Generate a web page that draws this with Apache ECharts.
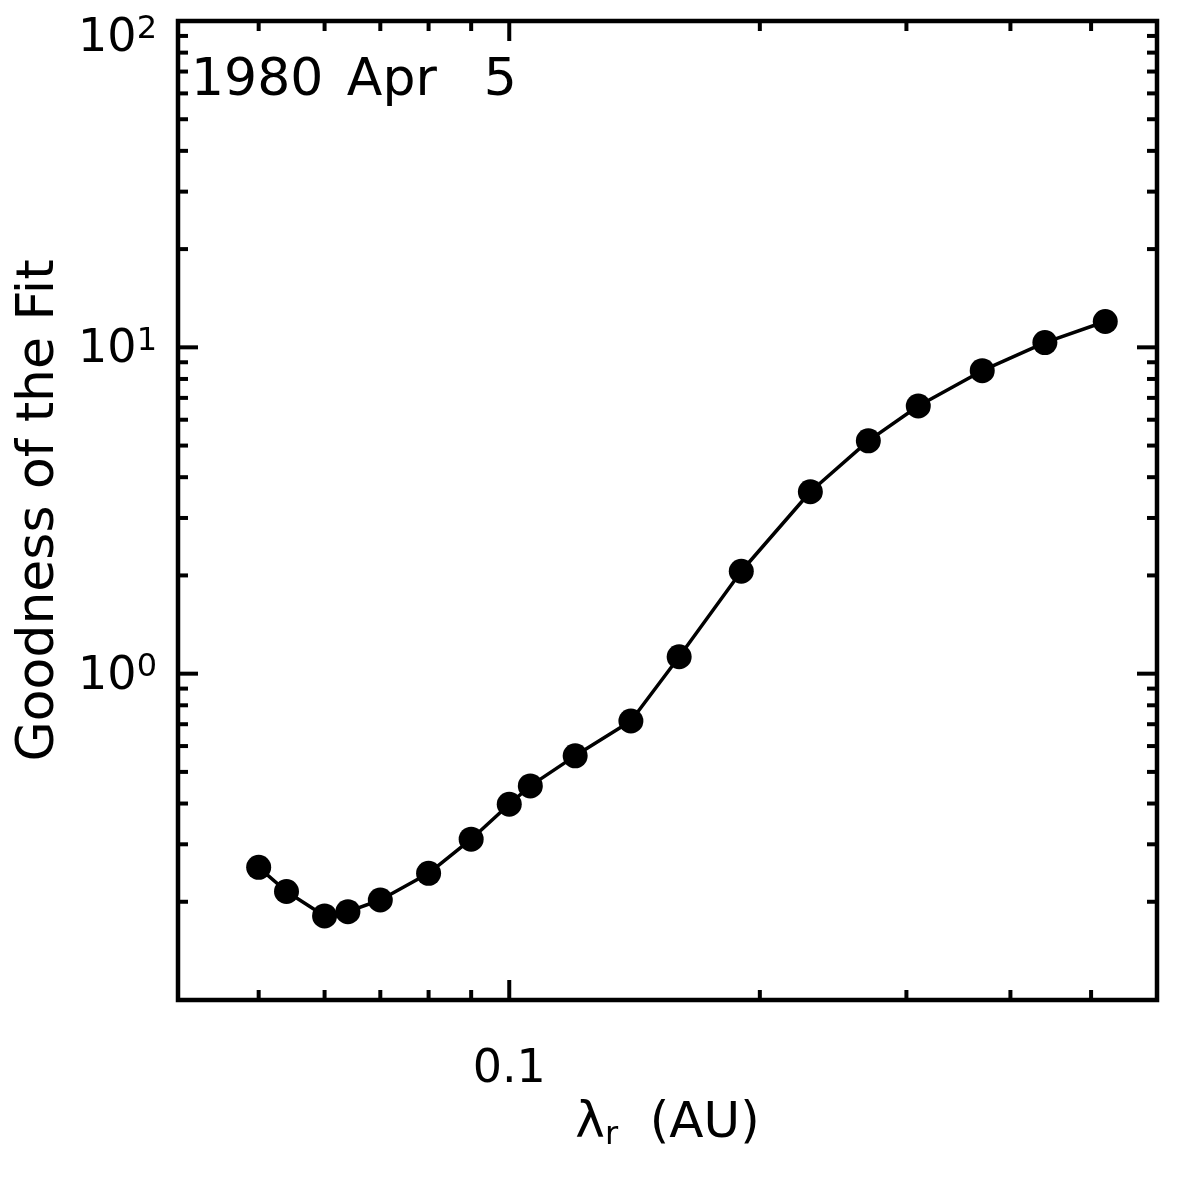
<!DOCTYPE html>
<html>
<head>
<meta charset="utf-8">
<script src="https://cdn.jsdelivr.net/npm/echarts@6/dist/echarts.min.js"></script>
<style>
html,body{margin:0;padding:0;background:#ffffff;}
#chart{width:1179px;height:1179px;}
</style>
</head>
<body>
<div id="chart"></div>
<script>
// ---- data ----
const lambdaR  = [0.050, 0.054, 0.060, 0.064, 0.070, 0.080, 0.090, 0.100, 0.106, 0.120, 0.140, 0.160, 0.190, 0.230, 0.270, 0.310, 0.370, 0.440, 0.520];
const goodness = [0.255, 0.215, 0.181, 0.1865, 0.2025, 0.2445, 0.311, 0.398, 0.453, 0.560, 0.716, 1.127, 2.06, 3.61, 5.17, 6.61, 8.48, 10.34, 12.0];

const xMajorTicks = [0.1];
const xMinorTicks = [0.05, 0.06, 0.07, 0.08, 0.09, 0.2, 0.3, 0.4, 0.5];
const yMajorTicks = [1, 10, 100];
const yMinorTicks = [0.2, 0.3, 0.4, 0.5, 0.6, 0.7, 0.8, 0.9, 2, 3, 4, 5, 6, 7, 8, 9, 20, 30, 40, 50, 60, 70, 80, 90];
const xTickLabels = {0.1: '0.1'};
const yTickLabels = {1: ['10', '0'], 10: ['10', '1'], 100: ['10', '2']};

const xRange = [0.04, 0.6];
const yRange = [0.1, 100];
const dateLabel = '1980 Apr  5';
const xTitle = ['λ', 'r', '  (AU)'];
const yTitle = 'Goodness of the Fit';

// ---- rendering ----
const FONT = 'DejaVu Sans';
const chart = echarts.init(document.getElementById('chart'), null, {renderer: 'canvas'});

const tickStyle = {stroke: '#000', lineWidth: 4};

function xTickItem(params, api) {
  const cs = params.coordSys;
  const v = api.value(0);
  const major = api.value(2) === 1;
  const x = api.coord([v, 1])[0];
  const len = major ? 20 : 10;
  const bottom = cs.y + cs.height, top = cs.y;
  const children = [
    {type: 'line', shape: {x1: x, y1: bottom, x2: x, y2: bottom - len}, style: tickStyle},
    {type: 'line', shape: {x1: x, y1: top, x2: x, y2: top + len}, style: tickStyle}
  ];
  const lab = xTickLabels[v];
  if (lab) {
    children.push({type: 'text', x: x, y: bottom + 70,
      style: {text: lab, fill: '#000', font: '46px "' + FONT + '"',
        align: 'center', textAlign: 'center', verticalAlign: 'middle', textVerticalAlign: 'middle'}});
  }
  return {type: 'group', children: children};
}

function yTickItem(params, api) {
  const cs = params.coordSys;
  const v = api.value(1);
  const major = api.value(2) === 1;
  const y = api.coord([1, v])[1];
  const len = major ? 20 : 10;
  const left = cs.x, right = cs.x + cs.width;
  const children = [
    {type: 'line', shape: {x1: left, y1: y, x2: left + len, y2: y}, style: tickStyle},
    {type: 'line', shape: {x1: right, y1: y, x2: right - len, y2: y}, style: tickStyle}
  ];
  const lab = yTickLabels[v];
  if (lab) {
    const dy = Math.abs(y - cs.y) < 1 ? 18 : 3;
    children.push({type: 'text', x: left - 21, y: y + dy,
      style: {text: '{b|' + lab[0] + '}{e|' + lab[1] + '}', fill: '#000',
        align: 'right', textAlign: 'right', verticalAlign: 'middle', textVerticalAlign: 'middle',
        rich: {
          b: {fontSize: 46, fontFamily: FONT, lineHeight: 50, fill: '#000', color: '#000'},
          e: {fontSize: 32, fontFamily: FONT, lineHeight: 32, verticalAlign: 'top', fill: '#000', color: '#000'}
        }}});
  }
  return {type: 'group', children: children};
}

const xTickData = xMajorTicks.map(v => [v, 1, 1]).concat(xMinorTicks.map(v => [v, 1, 0]));
const yTickData = yMajorTicks.map(v => [1, v, 1]).concat(yMinorTicks.map(v => [1, v, 0]));

const hiddenAxis = {
  axisLine: {show: false}, axisTick: {show: false}, axisLabel: {show: false}, splitLine: {show: false}
};

const option = {
  backgroundColor: '#ffffff',
  animation: false,
  grid: {left: 178, top: 21, width: 979, height: 979, show: true, borderColor: '#000', borderWidth: 4.5, backgroundColor: 'transparent'},
  xAxis: [Object.assign({
    type: 'log', logBase: 10, min: xRange[0], max: xRange[1],
    name: '{a|' + xTitle[0] + '}{s|' + xTitle[1] + '}{a|' + xTitle[2] + '}',
    nameLocation: 'middle', nameGap: 96,
    nameTextStyle: {
      rich: {
        a: {fontSize: 50, fontFamily: FONT, color: '#000', lineHeight: 56},
        s: {fontSize: 32, fontFamily: FONT, color: '#000', lineHeight: 32, verticalAlign: 'bottom'}
      }
    }
  }, hiddenAxis)],
  yAxis: [Object.assign({
    type: 'log', logBase: 10, min: yRange[0], max: yRange[1],
    name: yTitle, nameLocation: 'middle', nameGap: 113,
    nameTextStyle: {fontSize: 52, fontFamily: FONT, color: '#000'}
  }, hiddenAxis)],
  graphic: [{
    type: 'text', left: 191, top: 44,
    style: {
      text: dateLabel.split(' ').map(w => w ? '{t|' + w + '}' : '').join('{w| }'),
      rich: {
        t: {fontSize: 52, fontFamily: FONT, fill: '#000', lineHeight: 52},
        w: {fontSize: 74, fontFamily: FONT, fill: '#000', lineHeight: 52}
      }
    }
  }],
  series: [
    {type: 'custom', coordinateSystem: 'cartesian2d', renderItem: xTickItem, data: xTickData,
      encode: {x: 0, y: 1}, silent: true, z: 1, clip: false},
    {type: 'custom', coordinateSystem: 'cartesian2d', renderItem: yTickItem, data: yTickData,
      encode: {x: 0, y: 1}, silent: true, z: 1, clip: false},
    {type: 'line', data: lambdaR.map((x, i) => [x, goodness[i]]),
      symbol: 'circle', symbolSize: 25, showSymbol: true,
      lineStyle: {color: '#000', width: 3.5}, itemStyle: {color: '#000'},
      z: 5, silent: true}
  ]
};
chart.setOption(option);
</script>
</body>
</html>
